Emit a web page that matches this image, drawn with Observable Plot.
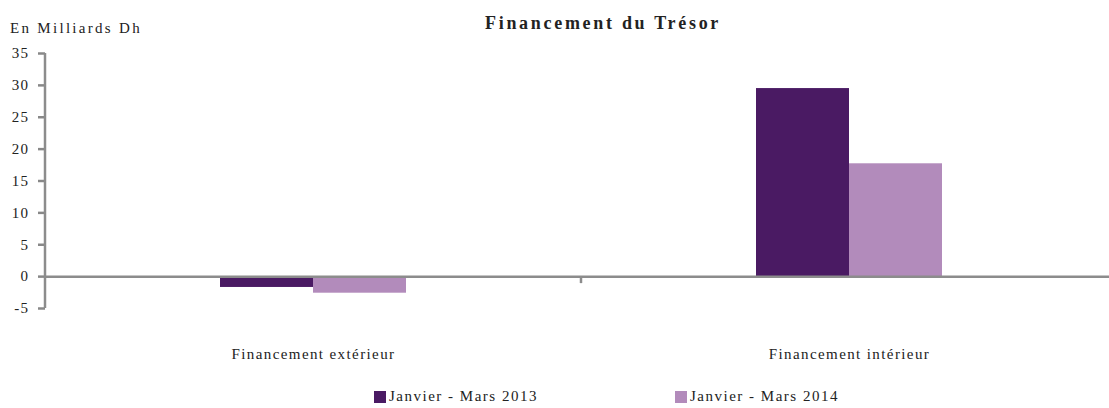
<!DOCTYPE html>
<html>
<head>
<meta charset="utf-8">
<script src="https://cdn.jsdelivr.net/npm/d3@7"></script>
<script src="https://cdn.jsdelivr.net/npm/@observablehq/plot@0.6"></script>
<style>
  html, body { margin: 0; padding: 0; overflow: hidden; background: #fff; }
  #wrap { position: relative; width: 1109px; height: 408px; overflow: hidden; font-family: "Liberation Serif", "DejaVu Serif", serif; color: #222; }
  #title { position: absolute; left: 485px; top: 13px; font-size: 18px; font-weight: bold; letter-spacing: 2.7px; }
  #unit { position: absolute; left: 10px; top: 20px; font-size: 15px; letter-spacing: 2.3px; }
  #chart { position: absolute; left: 0; top: 0; }
  .key { position: absolute; top: 388px; font-size: 15px; letter-spacing: 1.5px; display: flex; align-items: center; }
  .key span.sw { display: inline-block; width: 12px; height: 12px; margin-right: 3px; }
</style>
</head>
<body>
<div id="wrap">
  <div id="chart"></div>
  <div id="title">Financement du Trésor</div>
  <div id="unit">En Milliards Dh</div>
</div>
<script>
// données (milliards de dirhams)
const categories = ["Financement extérieur", "Financement intérieur"];
const series = ["Janvier - Mars 2013", "Janvier - Mars 2014"];
const values2013 = [-1.7, 29.5];
const values2014 = [-2.6, 17.7];
const colors = ["#4a1a63", "#b28bbb"];
const yTicks = [-5, 0, 5, 10, 15, 20, 25, 30, 35];

const data = categories.flatMap((c, i) => [
  {categorie: c, periode: series[0], valeur: values2013[i]},
  {categorie: c, periode: series[1], valeur: values2014[i]}
]);

const chart = Plot.plot({
  width: 1117,
  height: 372,
  marginLeft: 45,
  marginRight: 0,
  marginTop: 53,
  marginBottom: 64,
  style: {fontFamily: "'Liberation Serif', 'DejaVu Serif', serif", fontSize: "15px", color: "#222", letterSpacing: "1.4px", overflow: "visible", maxWidth: "none"},
  fx: {domain: categories, padding: 0, label: null},
  x: {domain: series, padding: 0, paddingOuter: 1.88, axis: null},
  y: {domain: [-5, 35], ticks: yTicks, label: null},
  color: {domain: series, range: colors},
  marks: [
    Plot.axisY({ticks: yTicks, tickFormat: d => String(d), tickSize: 7, tickPadding: 9, stroke: "#888", strokeWidth: 2.5, facetAnchor: "left", label: null}),
    Plot.axisFx({anchor: "bottom", tickSize: 0, tickPadding: 40, label: null}),
    Plot.barY(data, {fx: "categorie", x: "periode", y: "valeur", fill: "periode"}),
    Plot.ruleY([0], {stroke: "#8c8c8c", strokeWidth: 2.5})
  ]
});

// ligne de l'axe Y et petite graduation entre les catégories, placées via les échelles
const y = chart.scale("y"), fx = chart.scale("fx");
const svg = d3.select(chart);
const x0 = fx.apply(categories[0]);
svg.append("line")
  .attr("x1", x0).attr("x2", x0)
  .attr("y1", y.apply(35)).attr("y2", y.apply(-5))
  .attr("stroke", "#8c8c8c").attr("stroke-width", 2.5);
const xMid = fx.apply(categories[1]);
svg.append("line")
  .attr("x1", xMid).attr("x2", xMid)
  .attr("y1", y.apply(0)).attr("y2", y.apply(0) + 7)
  .attr("stroke", "#8c8c8c").attr("stroke-width", 2.5);

d3.select("#chart").append(() => chart);

// légende
const wrap = d3.select("#wrap");
const keyX = [374, 675];
series.forEach((s, i) => {
  const k = wrap.append("div").attr("class", "key").style("left", keyX[i] + "px");
  k.append("span").attr("class", "sw").style("background", colors[i]);
  k.append("span").text(s);
});
</script>
</body>
</html>
